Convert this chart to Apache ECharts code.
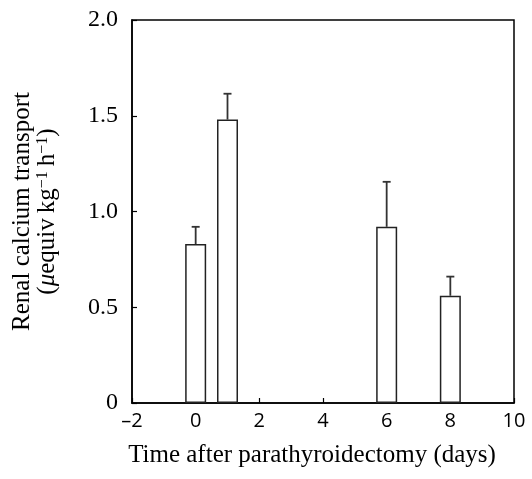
<!DOCTYPE html>
<html>
<head>
<meta charset="utf-8">
<script src="https://cdn.jsdelivr.net/npm/echarts@6/dist/echarts.min.js"></script>
<style>html,body{margin:0;padding:0;background:#fff;}#c{width:532px;height:479px;}</style>
</head>
<body>
<div id="c"></div>
<script>
var days = [0, 1, 6, 8];
var meanValues = [0.83, 1.48, 0.92, 0.56];
var upperValues = [0.92, 1.615, 1.155, 0.66];
var xTicks = [-2, 0, 2, 4, 6, 8, 10];
var yTicks = [0, 0.5, 1.0, 1.5, 2.0];

var serif = '"Liberation Serif", "Times New Roman", serif';
var chart = echarts.init(document.getElementById('c'), null, {renderer: 'canvas'});

var barData = days.map(function (d, i) { return [d, meanValues[i]]; });
var errData = days.map(function (d, i) { return [d, meanValues[i], upperValues[i]]; });

var option = {
  animation: false,
  backgroundColor: '#fff',
  grid: {left: 132, top: 20, right: 18, bottom: 76, containLabel: false,
         show: true, borderColor: '#000', borderWidth: 1.5, backgroundColor: 'transparent'},
  xAxis: {
    type: 'value', min: xTicks[0], max: xTicks[xTicks.length - 1], interval: 2,
    splitLine: {show: false},
    axisLine: {show: true, onZero: false, lineStyle: {color: '#000', width: 1.5}},
    axisTick: {show: true, inside: true, length: 5, lineStyle: {color: '#000', width: 1.2}},
    axisLabel: {margin: 8, fontSize: 20, color: '#000', fontFamily: '"Open Sans", sans-serif',
      formatter: function (v) { return String(v).replace('-', '\u2013'); }},
    name: 'Time after parathyroidectomy (days)',
    nameLocation: 'middle', nameGap: 40,
    nameTextStyle: {fontSize: 25, fontFamily: serif, color: '#000', padding: [0, 22, 0, 0]}
  },
  yAxis: {
    type: 'value', min: yTicks[0], max: yTicks[yTicks.length - 1], interval: 0.5,
    splitLine: {show: false},
    axisLine: {show: true, onZero: false, lineStyle: {color: '#000', width: 1.5}},
    axisTick: {show: true, inside: true, length: 5, lineStyle: {color: '#000', width: 1.2}},
    axisLabel: {margin: 14, fontSize: 24, color: '#000', fontFamily: serif,
      formatter: function (v) { return v === 0 ? '0' : v.toFixed(1); }},
    name: '{a|Renal calcium transport}\n{a|(}{i|\u03bc}{a|equiv\u2009kg}{s|\u22121}{a|\u2009h}{s|\u22121}{a|)}',
    nameLocation: 'middle', nameRotate: 90, nameGap: 72,
    nameTextStyle: {
      color: '#000', fontFamily: serif, fontSize: 25, lineHeight: 25,
      rich: {
        a: {fontSize: 25, fontFamily: serif, color: '#000', lineHeight: 25},
        i: {fontSize: 25, fontFamily: serif, fontStyle: 'italic', color: '#000', lineHeight: 25},
        s: {fontSize: 16, fontFamily: serif, color: '#000', lineHeight: 12, verticalAlign: 'top'}
      }
    }
  },
  series: [
    {
      type: 'bar', data: barData, barWidth: 21,
      itemStyle: {color: '#fff', borderColor: '#222', borderWidth: 1.5},
      z: 3
    },
    {
      type: 'custom', data: errData, z: 4,
      renderItem: function (params, api) {
        var x = api.value(0);
        var lo = api.coord([x, api.value(1)]);
        var hi = api.coord([x, api.value(2)]);
        var half = 4;
        var style = {stroke: '#333', lineWidth: 1.8};
        return {type: 'group', children: [
          {type: 'line', shape: {x1: lo[0], y1: lo[1], x2: hi[0], y2: hi[1]}, style: style},
          {type: 'line', shape: {x1: hi[0] - half, y1: hi[1], x2: hi[0] + half, y2: hi[1]}, style: style}
        ]};
      }
    }
  ]
};
chart.setOption(option);
</script>
</body>
</html>
